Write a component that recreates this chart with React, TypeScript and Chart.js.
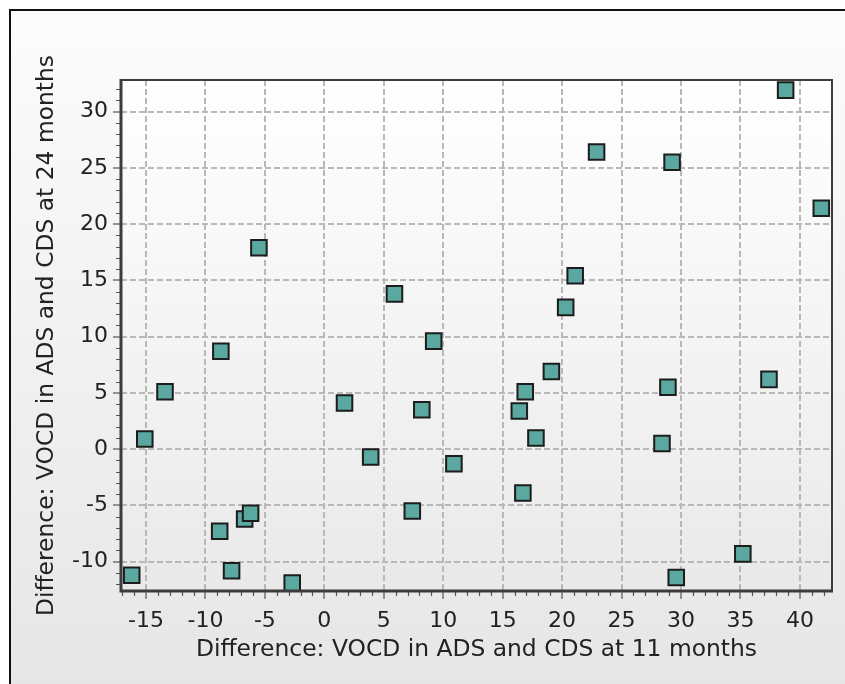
import React, { useEffect, useRef } from "react";
import { Chart, registerables } from "chart.js";

Chart.register(...registerables);

// Difference: VOCD in ADS and CDS at 11 months
const diff11Months = [
  38.8, 41.8, 22.9, 29.25, -5.5, 5.9, 21.1, 20.3, 9.2, -8.7, -13.4,
  -15.1, 1.7, 8.2, 16.9, 16.4, 19.1, 17.8, 28.9, 28.4, 37.4, 3.9,
  10.9, 16.7, 7.4, -6.7, -6.2, -8.8, -7.8, -16.2, -2.7, 29.6, 35.2,
];
// Difference: VOCD in ADS and CDS at 24 months
const diff24Months = [
  31.9, 21.4, 26.4, 25.5, 17.9, 13.8, 15.4, 12.6, 9.6, 8.7, 5.1,
  0.9, 4.1, 3.5, 5.1, 3.4, 6.9, 1.0, 5.5, 0.5, 6.2, -0.7,
  -1.3, -3.9, -5.5, -6.2, -5.7, -7.3, -10.8, -11.2, -11.9, -11.4, -9.3,
];

const xTitle = "Difference: VOCD in ADS and CDS at 11 months";
const yTitle = "Difference: VOCD in ADS and CDS at 24 months";
const xRange = [-17.1, 42.7];
const yRange = [-12.6, 32.8];
const majorStep = 5;
const minorStep = 1;

const FONT = "'DejaVu Sans', Verdana, sans-serif";

const plotDecor = {
  id: "plotDecor",
  beforeDraw(chart: any) {
    const { ctx, chartArea: a } = chart;
    const g = ctx.createLinearGradient(0, a.top, 0, a.bottom);
    g.addColorStop(0, "#ffffff");
    g.addColorStop(1, "#e9e9e9");
    ctx.save();
    ctx.fillStyle = g;
    ctx.fillRect(a.left, a.top, a.right - a.left, a.bottom - a.top);
    ctx.restore();
  },
  afterDraw(chart: any) {
    const { ctx, chartArea: a, scales } = chart;
    ctx.save();
    ctx.strokeStyle = "#555";
    ctx.lineWidth = 1.2;
    const xs = scales.x;
    const ys = scales.y;
    ctx.beginPath();
    for (let v = Math.ceil(xs.min); v <= xs.max; v += minorStep) {
      if (v % majorStep === 0) continue;
      const px = Math.round(xs.getPixelForValue(v)) + 0.5;
      ctx.moveTo(px, a.bottom);
      ctx.lineTo(px, a.bottom + 5);
    }
    for (let v = Math.ceil(ys.min); v <= ys.max; v += minorStep) {
      if (v % majorStep === 0) continue;
      const py = Math.round(ys.getPixelForValue(v)) + 0.5;
      ctx.moveTo(a.left - 5, py);
      ctx.lineTo(a.left, py);
    }
    ctx.stroke();
    ctx.strokeStyle = "#3c3c3c";
    ctx.lineWidth = 2;
    ctx.beginPath();
    ctx.moveTo(a.left, a.top);
    ctx.lineTo(a.right, a.top);
    ctx.lineTo(a.right, a.bottom);
    ctx.stroke();
    ctx.lineWidth = 3;
    ctx.beginPath();
    ctx.moveTo(a.left, a.top - 1);
    ctx.lineTo(a.left, a.bottom);
    ctx.lineTo(a.right + 1, a.bottom);
    ctx.stroke();
    ctx.restore();
  },
};

const majorTicks = (scale: any) => {
  const ticks: any[] = [];
  const start = Math.ceil(scale.min / majorStep) * majorStep;
  for (let v = start; v <= scale.max + 1e-9; v += majorStep) ticks.push({ value: v });
  scale.ticks = ticks;
};

export default function App() {
  const ref = useRef<HTMLCanvasElement | null>(null);

  useEffect(() => {
    if (!ref.current) return;
    const points = diff11Months.map((x, i) => ({ x, y: diff24Months[i] }));
    const chart = new Chart(ref.current, {
      type: "scatter",
      data: {
        datasets: [
          {
            data: points,
            pointStyle: "rect",
            pointRadius: 11,
            pointHoverRadius: 11,
            backgroundColor: "#5aa8a0",
            borderColor: "#1c1c1c",
            borderWidth: 2,
            clip: false,
          },
        ],
      },
      options: {
        responsive: false,
        animation: false,
        devicePixelRatio: 1,
        layout: { padding: { top: 80, right: 13, left: 0, bottom: 0 } },
        plugins: { legend: { display: false }, tooltip: { enabled: false } },
        scales: {
          x: {
            type: "linear",
            min: xRange[0],
            max: xRange[1],
            afterBuildTicks: majorTicks,
            afterFit: (s: any) => {
              s.height = 93;
            },
            ticks: {
              color: "#222",
              font: { family: FONT, size: 22 },
              padding: 9,
              maxRotation: 0,
              autoSkip: false,
            },
            grid: {
              color: "#b8b8b8",
              lineWidth: 2,
              tickColor: "#555",
              tickLength: 8,
              tickWidth: 1.2,
            },
            border: { display: false, dash: [6, 3] },
            title: {
              display: true,
              text: xTitle,
              color: "#222",
              font: { family: FONT, size: 23.4 },
              padding: { top: 0, bottom: 20 },
            },
          },
          y: {
            type: "linear",
            min: yRange[0],
            max: yRange[1],
            afterBuildTicks: majorTicks,
            afterFit: (s: any) => {
              s.width = 121;
            },
            ticks: {
              color: "#222",
              font: { family: FONT, size: 22 },
              padding: 5,
              autoSkip: false,
            },
            grid: {
              color: "#b8b8b8",
              lineWidth: 2,
              tickColor: "#555",
              tickLength: 8,
              tickWidth: 1.2,
            },
            border: { display: false, dash: [6, 3] },
            title: {
              display: true,
              text: yTitle,
              color: "#222",
              font: { family: FONT, size: 23.4 },
              padding: { top: 33, bottom: 0 },
            },
          },
        },
      },
      plugins: [plotDecor],
    });
    return () => chart.destroy();
  }, []);

  return (
    <div
      style={{
        position: "fixed",
        left: 0,
        top: 0,
        width: 845,
        height: 684,
        overflow: "hidden",
        background: "#ffffff",
      }}
    >
      <div
        style={{
          position: "absolute",
          left: 9,
          top: 9,
          width: 900,
          height: 675,
          borderLeft: "2px solid #111",
          borderTop: "2px solid #111",
          background: "linear-gradient(to bottom, #fcfcfc, #e6e6e6)",
        }}
      />
      <canvas
        ref={ref}
        width={845}
        height={684}
        style={{ position: "absolute", left: 0, top: 0, width: 845, height: 684 }}
      />
    </div>
  );
}
